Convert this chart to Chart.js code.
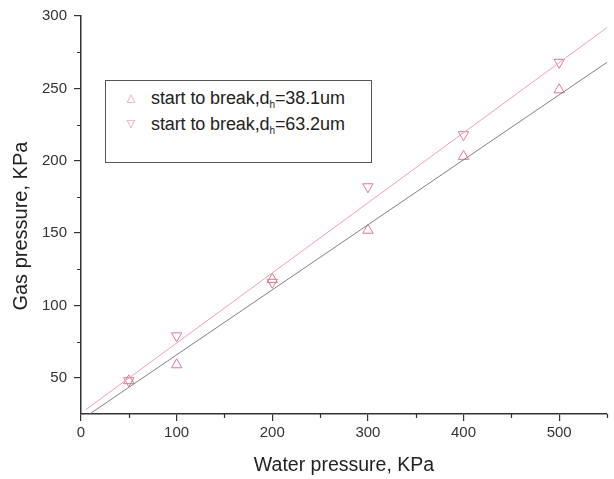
<!DOCTYPE html>
<html>
<head>
<meta charset="utf-8">
<script src="https://cdn.jsdelivr.net/npm/chart.js@4/dist/chart.umd.min.js"></script>
<style>
  html, body { margin: 0; padding: 0; background: #fff; }
  #wrap { position: relative; width: 614px; height: 479px; }
  #legend {
    position: absolute; left: 105px; top: 80px; width: 265px; height: 81px;
    border: 1px solid #555; background: #fff;
    font-family: "Liberation Sans", Arial, sans-serif; font-size: 18px; color: #222;
  }
  .row { position: absolute; left: 0; white-space: nowrap; line-height: 20px; }
  .mk { position: absolute; left: 18px; width: 14px; text-align: center; color: #e890a4; font-family: "DejaVu Sans", sans-serif; font-size: 11px; }
  .tx { position: absolute; left: 45px; letter-spacing: -0.1px; }
  .tx sub { font-size: 10px; vertical-align: -4px; line-height: 0; }
</style>
</head>
<body>
<div id="wrap">
  <canvas id="c" width="614" height="479"></canvas>
  <div id="legend">
    <div class="row" style="top:7px;"><span class="mk">&#9651;</span><span class="tx">start to break,d<sub>h</sub>=38.1um</span></div>
    <div class="row" style="top:33px;"><span class="mk">&#9661;</span><span class="tx">start to break,d<sub>h</sub>=63.2um</span></div>
  </div>
</div>
<script>
// ---- data ----
const waterPressure = [50, 100, 200, 300, 400, 500];
const gasD38 = [48, 59, 118, 152, 203, 249];   // start to break, dh=38.1um (up triangles)
const gasD63 = [48, 79, 116, 182, 218, 268];   // start to break, dh=63.2um (down triangles)
// fitted straight lines, end points
const fitD38X = [9, 550];
const fitD38Y = [25, 268];
const fitD63X = [5, 550];
const fitD63Y = [28, 292];
// axis ticks
const xMajorTicks = [0, 100, 200, 300, 400, 500];
const xMinorTicks = [50, 150, 250, 350, 450, 550];
const yMajorTicks = [50, 100, 150, 200, 250, 300];
const yMinorTicks = [75, 125, 175, 225, 275];

const pts = (xs, ys) => xs.map((x, i) => ({ x: x, y: ys[i] }));

const MARK = '#e07890';
const AXIS = '#333';

const minorTicks = {
  id: 'minorTicks',
  afterDraw(chart) {
    const ctx = chart.ctx;
    const xs = chart.scales.x, ys = chart.scales.y;
    ctx.save();
    ctx.strokeStyle = AXIS;
    ctx.lineWidth = 1.2;
    ctx.beginPath();
    xMinorTicks.forEach(v => {
      const px = Math.round(xs.getPixelForValue(v)) + 0.5;
      ctx.moveTo(px, xs.top);
      ctx.lineTo(px, xs.top + 4);
    });
    yMinorTicks.forEach(v => {
      const py = Math.round(ys.getPixelForValue(v)) + 0.5;
      ctx.moveTo(ys.right, py);
      ctx.lineTo(ys.right - 4, py);
    });
    ctx.stroke();
    ctx.restore();
  }
};

new Chart(document.getElementById('c'), {
  type: 'scatter',
  data: {
    datasets: [
      {
        label: 'fit 38.1',
        data: pts(fitD38X, fitD38Y),
        showLine: true, borderColor: '#808080', borderWidth: 1,
        pointRadius: 0, fill: false
      },
      {
        label: 'fit 63.2',
        data: pts(fitD63X, fitD63Y),
        showLine: true, borderColor: '#f0a0b4', borderWidth: 1,
        pointRadius: 0, fill: false
      },
      {
        label: 'start to break, dh=38.1um',
        data: pts(waterPressure, gasD38),
        pointStyle: 'triangle', pointRadius: 6, pointBorderWidth: 1,
        borderColor: MARK, backgroundColor: 'rgba(0,0,0,0)',
        pointBackgroundColor: 'rgba(0,0,0,0)', pointBorderColor: MARK
      },
      {
        label: 'start to break, dh=63.2um',
        data: pts(waterPressure, gasD63),
        pointStyle: 'triangle', pointRotation: 180, pointRadius: 6, pointBorderWidth: 1,
        borderColor: MARK, backgroundColor: 'rgba(0,0,0,0)',
        pointBackgroundColor: 'rgba(0,0,0,0)', pointBorderColor: MARK
      }
    ]
  },
  options: {
    responsive: false,
    animation: false,
    layout: { padding: { left: 0, right: 3, top: 16, bottom: 0 } },
    plugins: { legend: { display: false }, tooltip: { enabled: false } },
    scales: {
      x: {
        type: 'linear', min: 0, max: 550,
        afterBuildTicks: s => { s.ticks = xMajorTicks.map(v => ({ value: v })); },
        afterFit: s => { s.height = 65; },
        grid: { drawOnChartArea: false, drawTicks: true, tickLength: 7, color: AXIS, lineWidth: 1.2 },
        border: { display: true, color: AXIS, width: 1.5 },
        ticks: { color: '#333', font: { family: 'Liberation Sans', size: 15 }, padding: 3, maxRotation: 0 },
        title: { display: true, text: 'Water pressure, KPa', color: '#222',
                 font: { family: 'Liberation Sans', size: 19.5 }, padding: { top: 4, bottom: 2 } }
      },
      y: {
        type: 'linear', min: 25, max: 300,
        afterBuildTicks: s => { s.ticks = yMajorTicks.map(v => ({ value: v })); },
        afterFit: s => { s.width = 81; },
        grid: { drawOnChartArea: false, drawTicks: true, tickLength: 7, color: AXIS, lineWidth: 1.2 },
        border: { display: true, color: AXIS, width: 1.5 },
        ticks: { color: '#333', font: { family: 'Liberation Sans', size: 15 }, padding: 7 },
        title: { display: true, text: 'Gas pressure, KPa    ', color: '#222',
                 font: { family: 'Liberation Sans', size: 20 }, padding: { top: 9, bottom: 4 } }
      }
    }
  },
  plugins: [minorTicks]
});
</script>
</body>
</html>
